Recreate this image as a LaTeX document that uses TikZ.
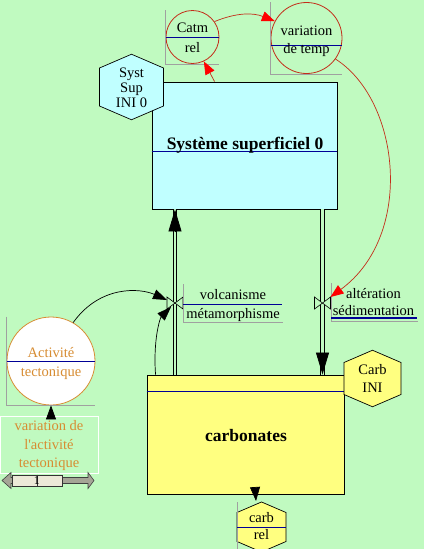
\documentclass[tikz,border=0pt]{standalone}
\usepackage{fontspec}
\setmainfont{Liberation Serif}
\usetikzlibrary{arrows.meta,calc,positioning}
\definecolor{bggreen}{RGB}{192,250,192}
\definecolor{syscyan}{RGB}{192,255,255}
\definecolor{carbyellow}{RGB}{255,255,128}
\definecolor{navyline}{RGB}{0,0,150}
\definecolor{darkred}{RGB}{195,45,25}
\definecolor{tecorange}{RGB}{215,140,50}
\definecolor{lgray}{RGB}{160,160,160}
\definecolor{sliderbeige}{RGB}{236,233,216}
\definecolor{slidergray}{RGB}{165,165,150}
\tikzset{
  txt/.style={font=\fontsize{14.5}{16}\selectfont, inner sep=0pt, anchor=base},
  boldtxt/.style={font=\fontsize{17.5}{19}\selectfont\bfseries, inner sep=0pt, anchor=base},
  stock/.style={draw=black, line width=0.9pt, inner sep=0pt},
  pool/.style={circle, draw=darkred, line width=0.8pt, inner sep=0pt},
  navy/.style={draw=navyline, line width=0.9pt},
  frameL/.style={draw=lgray, line width=0.8pt},
  pipe/.style={double=bggreen, double distance=2.6pt, line width=0.8pt},
  pipehead/.style={line width=0.8pt, -{Triangle[length=22pt,width=13pt]}},
  redarrow/.style={draw=darkred, line width=0.7pt, -{Triangle[length=13pt,width=10pt,color=red]}},
  blackarrow/.style={line width=0.7pt, -{Triangle[length=14pt,width=10pt]}},
}
% hexagon: centre, half width, half side, style
\newcommand{\hexa}[4]{\draw[#4] (#1) ++(0,{-#3-0.43*#2}) -- ++(#2,{0.43*#2}) -- ++(0,{2*#3})
  -- ++(-#2,{0.43*#2}) -- ++(-#2,{-0.43*#2}) -- ++(0,{-2*#3}) -- cycle;}
% valve: bow tie on a pipe
\newcommand{\valve}[1]{\filldraw[fill=bggreen, line width=0.6pt] (#1) -- ++(-8,-6) -- ++(0,12) -- cycle
  (#1) -- ++(8,-6) -- ++(0,12) -- cycle;}

\begin{document}
\begin{tikzpicture}[x=1pt,y=-1pt]
  \fill[bggreen] (0,0) rectangle (424,549);
  \useasboundingbox (0,0) rectangle (424,549);
  \coordinate (v1) at (175,303);
  \coordinate (v2) at (322.5,303);
  %Stocks
  \node[stock, fill=syscyan, minimum width=185, minimum height=127] (sys) at (244.5,145.5) {};
  \draw[navy] (sys.west |- 0,151) -- (sys.east |- 0,151);
  \node[boldtxt] (sysT) at (245,149) {Système superficiel 0};
  \node[stock, fill=carbyellow, minimum width=197, minimum height=119] (carb) at (245.5,434.5) {};
  \draw[navy] (carb.west |- 0,391) -- (carb.east |- 0,391);
  \node[boldtxt] (carbT) at (246,441) {carbonates};
  %Initial values
  \coordinate (syi) at (131.5,87);
  \hexa{syi}{32}{19}{fill=syscyan, line width=0.7pt}
  \node[txt] (syiA) at (131.5,77) {Syst};
  \node[txt] (syiB) at (131.5,92) {Sup};
  \node[txt] (syiC) at (131.5,107) {INI 0};
  \coordinate (cai) at (372.5,378.5);
  \hexa{cai}{28.5}{16}{fill=carbyellow, line width=0.7pt}
  \node[txt] (caiA) at (372.5,374) {Carb};
  \node[txt] (caiB) at (372.5,392) {INI};
  %Converters
  \node[pool, minimum size=53] (catm) at (192.5,37) {};
  \draw[frameL] (catm.west |- catm.north) -- (catm.west |- catm.south) -- (catm.east |- catm.south);
  \draw[navy] (catm.west) -- (catm.east);
  \node[txt] (catmA) at (192.5,32) {Catm};
  \node[txt] (catmB) at (192.5,52) {rel};
  \node[pool, minimum size=71] (var) at (306.5,38) {};
  \draw[frameL] (var.west |- var.north) -- (var.west |- var.south) -- (var.east |- var.south);
  \draw[navy] (var.west |- 0,45) -- (var.east |- 0,45);
  \node[txt] (varA) at (306.5,35) {variation};
  \node[txt] (varB) at (306.5,53) {de temp};
  \node[pool, draw=tecorange, fill=white, minimum size=88] (act) at (51,361) {};
  \draw[frameL] (act.west |- act.north) -- (act.west |- act.south) -- (act.east |- act.south);
  \draw[navy] (act.west) -- (act.east);
  \node[txt, text=tecorange] (actA) at (51,357) {Activité};
  \node[txt, text=tecorange] (actB) at (51,376) {tectonique};
  %Pipes
  \draw[pipe] (carb.north -| v1) -- (sys.south -| v1);
  \draw[pipehead] ($(sys.south -| v1)+(0,23)$) -- (sys.south -| v1);
  \draw[pipe] (sys.south -| v2) -- (carb.north -| v2);
  \draw[pipehead] ($(carb.north -| v2)+(0,-22)$) -- (carb.north -| v2);
  \valve{v1}
  \valve{v2}
  %Flow labels
  \draw[frameL] (183,284) -- (183,322) -- (283,322);
  \draw[navy] (183,304) -- (282,304);
  \node[txt] (volc) at (233,299) {volcanisme};
  \node[txt] (meta) at (233,318) {métamorphisme};
  \draw[frameL] (331,283) -- (331,321.5) -- (418,321.5);
  \draw[navy, line width=1.3pt] (331,318) -- (417,318);
  \node[txt] (alt) at (373.5,298) {altération};
  \node[txt] (sed) at (373.5,315.5) {sédimentation};
  %Output hexagon
  \coordinate (crl) at (261.5,527);
  \hexa{crl}{24.5}{14.5}{fill=carbyellow, line width=0.7pt}
  \draw[frameL] (237,502) -- (237,549);
  \draw[navy] (237,527) -- (286,527);
  \node[txt] (crlA) at (261.5,522) {carb};
  \node[txt] (crlB) at (261.5,539) {rel};
  %Graphical input
  \node[draw=white, line width=0.6pt, minimum width=98, minimum height=57, inner sep=0pt] (vat) at (49,444.5) {};
  \node[txt, text=tecorange] (vatA) at (49,430) {variation de};
  \node[txt, text=tecorange] (vatB) at (49,449) {l\textquotesingle activité};
  \node[txt, text=tecorange] (vatC) at (49,467) {tectonique};
  \filldraw[fill=slidergray, draw=black!75, line width=0.6pt] (2,480.5) -- (11,472.5) -- (11,477.5) -- (88,477.5)
    -- (88,472.5) -- (94,480.5) -- (88,488.5) -- (88,483.5) -- (11,483.5) -- (11,488.5) -- cycle;
  \node[fill=sliderbeige, draw=black!80, line width=0.7pt, minimum width=50, minimum height=11, inner sep=0pt] (thumb) at (37,480.5) {};
  \draw[black!80, line width=0.7pt] (thumb.north) -- (thumb.south);
  \node[txt, font=\fontsize{12}{13}\selectfont] (thumbT) at (37,484) {1};
  %Links
  \draw[redarrow] ($(sys.north west)+(63,0)$) -- (catm.-65);
  \draw[redarrow] (catm.35) to[bend left=22] (var.152);
  \draw[redarrow] (var.-36) .. controls (400,100) and (415,235) .. ($(v2)+(8,-6)$);
  \draw[blackarrow] (act.60) .. controls (100,285) and (140,288) .. ($(v1)+(-8,-3)$);
  \draw[blackarrow] ($(carb.north west)+(9,0)$) .. controls (153,340) and (160,318) .. ($(v1)+(-4,4)$);
  \draw[blackarrow] (act.south |- vat.north) -- (act.south);
  \draw[blackarrow] ($(carb.south west)+(109,0)$) -- ($(crl)+(-5.5,-26)$);
\end{tikzpicture}
\end{document}
